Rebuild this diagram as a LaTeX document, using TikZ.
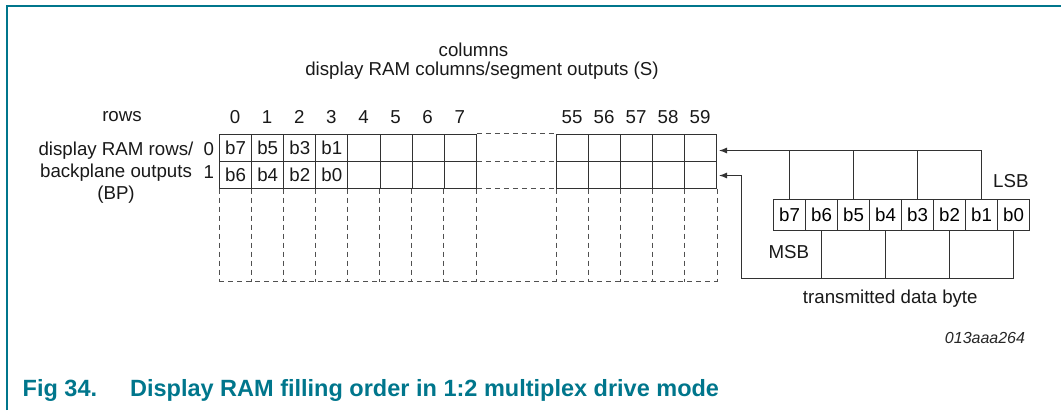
\documentclass[tikz,border=0pt]{standalone}
\usepackage{fontspec}
\setmainfont{Liberation Sans}
\usetikzlibrary{arrows.meta}
\definecolor{nxpteal}{RGB}{0,118,140}
\definecolor{linegray}{RGB}{50,50,50}
\definecolor{dashgray}{RGB}{80,80,80}
\begin{document}
\begin{tikzpicture}[x=1pt,y=-1pt,
  txt/.style={font=\fontsize{18.7}{22}\selectfont, inner sep=0pt, text=black!90},
  cell/.style={draw=linegray, line width=1pt, minimum width=32pt, minimum height=27pt, inner sep=0pt, font=\fontsize{18.7}{22}\selectfont},
  cella/.style={cell, minimum width=32.1pt},
  bytecell/.style={draw=linegray, line width=1pt, minimum width=32pt, minimum height=31pt, inner sep=0pt, font=\fontsize{18.7}{22}\selectfont},
  dsh/.style={draw=dashgray, line width=1pt, dash pattern=on 5pt off 4pt},
  conn/.style={draw=linegray, line width=1pt},
  arr/.style={conn, -{Latex[length=8pt,width=6pt]}},
]
\useasboundingbox (0,0) rectangle (1061,410);
% frame
\draw[nxpteal, line width=1.5pt] (7,410) -- (7,6) -- (1061,6);

% headings
\node[txt, anchor=base] (hcol) at (473.5,56.5) {columns};
\node[txt, anchor=base] (hseg) at (482,75.5) {display RAM columns/segment outputs (S)};
\node[txt, anchor=base] (hrows) at (122,121.7) {rows};
\node[txt, anchor=base, align=center] (hbp) at (116,199) {display RAM rows/\\backplane outputs\\(BP)};
\node[txt, anchor=base] (r0) at (208.7,155) {0};
\node[txt, anchor=base] (r1) at (208.7,178) {1};

% grid columns 0..7
\foreach \i in {0,...,7} {
  \node[txt, anchor=base] (cn\i) at ({219+32.1*(\i+0.5)},123) {\i};
  \node[cella] (g0-\i) at ({219.5+32.1*(\i+0.5)},147.5) {};
  \node[cella] (g1-\i) at ({219.5+32.1*(\i+0.5)},174.5) {};
}
\node[txt] at (g0-0) {b7}; \node[txt] at (g1-0) {b6};
\node[txt] at (g0-1) {b5}; \node[txt] at (g1-1) {b4};
\node[txt] at (g0-2) {b3}; \node[txt] at (g1-2) {b2};
\node[txt] at (g0-3) {b1}; \node[txt] at (g1-3) {b0};

% grid columns 55..59
\foreach \n [count=\k from 0] in {55,56,57,58,59} {
  \node[txt, anchor=base] (cn\n) at ({556+32*(\k+0.5)},123) {\n};
  \node[cell] (g0-\n) at ({556.5+32*(\k+0.5)},147.5) {};
  \node[cell] (g1-\n) at ({556.5+32*(\k+0.5)},174.5) {};
}

% dashed gap region
\draw[dsh] (g0-7.north east) -- (g0-55.north west);
\draw[dsh] (g0-7.south east) -- (g0-55.south west);
\draw[dsh] (g1-7.south east) -- (g1-55.south west);
% dashed extension below
\foreach \i in {0,...,7} {
  \draw[dsh] (g1-\i.south west) -- ++(0,93);
}
\draw[dsh] (g1-7.south east) -- ++(0,93);
\foreach \n in {55,56,57,58,59} {
  \draw[dsh] (g1-\n.south west) -- ++(0,93);
}
\draw[dsh] (g1-59.south east) -- ++(0,93);
\draw[dsh] ([yshift=-93pt]g1-0.south west) -- ([yshift=-93pt]g1-59.south east);

% transmitted byte
\foreach \b [count=\k from 0] in {7,6,5,4,3,2,1,0} {
  \node[bytecell] (B\b) at ({789.5+32*\k},214.5) {b\b};
}
\node[txt, anchor=base] (lsb) at (1010.8,187) {LSB};
\node[txt, anchor=base] (msb) at (788.8,258) {MSB};
\node[txt, anchor=base] (tdb) at (890.3,303.5) {transmitted data byte};
\node[anchor=base, inner sep=0pt, font=\fontsize{16}{19}\selectfont\itshape, text=black!85] (ref) at (985,343) {013aaa264};

% connectors
\coordinate (tA) at (719,150.5);
\coordinate (tB) at (719,175.5);
\coordinate (cB) at (741.5,278.5);
\draw[arr] (B1.north) |- (tA);
\foreach \b in {7,5,3} { \draw[conn] (B\b.north) -- (B\b.north |- tA); }
\draw[arr] (B0.south) |- (cB) |- (tB);
\foreach \b in {6,4,2} { \draw[conn] (B\b.south) -- (B\b.south |- cB); }

% caption
\node[anchor=base west, inner sep=0pt, font=\fontsize{23.5}{28}\selectfont\bfseries, text=nxpteal] (cap) at (22.5,396.7) {Fig 34.\hspace{33pt}Display RAM filling order in 1:2 multiplex drive mode};
\end{tikzpicture}
\end{document}
